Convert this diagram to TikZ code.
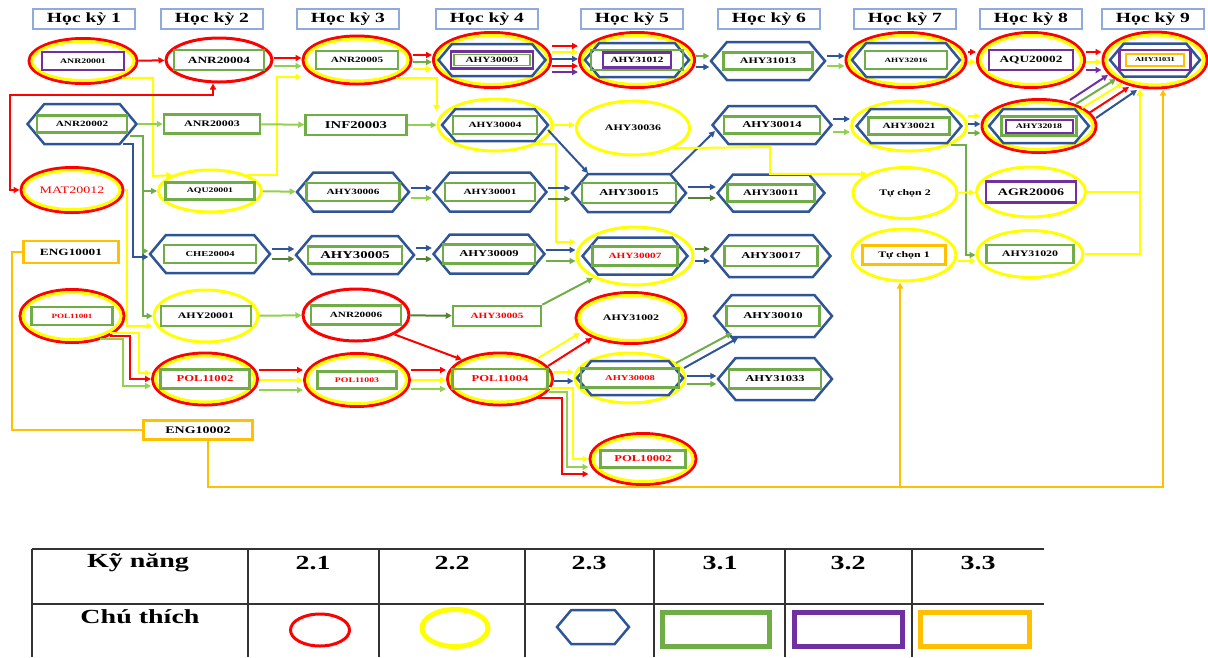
\documentclass[tikz,border=0pt]{standalone}
\usepackage{fontspec}
\usepackage{tikz}
\usetikzlibrary{shapes.geometric,shapes.symbols,arrows.meta}
\newfontfamily\lab[FakeStretch=1.4]{Liberation Serif}
\definecolor{cred}{HTML}{FF0000}
\definecolor{cyel}{HTML}{FFFF00}
\definecolor{cblue}{HTML}{2F5597}
\definecolor{cgreen}{HTML}{70AD47}
\definecolor{lgreen}{HTML}{92D050}
\definecolor{dgreen}{HTML}{548235}
\definecolor{cpurple}{HTML}{7030A0}
\definecolor{corange}{HTML}{FFC000}
\definecolor{hdrblue}{HTML}{8FAADC}

\begin{document}
\begin{tikzpicture}[
  x=1pt, y=-1pt,
  >={Triangle[length=6pt,width=6pt]},
  hdr/.style={draw=hdrblue, line width=1.5pt, minimum width=102pt, minimum height=20pt, inner sep=0pt, font=\lab\bfseries\fontsize{14}{14}\selectfont},
  lbl/.style={font=\lab\bfseries\fontsize{#1}{#1}\selectfont},
  lblr/.style={font=\lab\fontsize{#1}{#1}\selectfont},
  c21/.style 2 args={ellipse, draw=cred, line width=3pt, minimum width=#1pt, minimum height=#2pt, inner sep=0pt},
  c22/.style 2 args={ellipse, draw=cyel, line width=3pt, minimum width=#1pt, minimum height=#2pt, inner sep=0pt},
  c23/.style 2 args={signal, signal to=east and west, signal pointer angle=100, draw=cblue, line width=2.5pt, minimum width=#1pt, minimum height=#2pt, inner sep=0pt},
  c31/.style 2 args={rectangle, draw=cgreen, line width=2.5pt, minimum width=#1pt, minimum height=#2pt, inner sep=0pt},
  c32/.style 2 args={rectangle, draw=cpurple, line width=2.5pt, minimum width=#1pt, minimum height=#2pt, inner sep=0pt},
  c33/.style 2 args={rectangle, draw=corange, line width=2.5pt, minimum width=#1pt, minimum height=#2pt, inner sep=0pt},
  flow/.style={->, line width=2pt},
  ra/.style={flow, draw=cred},
  ya/.style={flow, draw=cyel},
  ba/.style={flow, draw=cblue},
  ga/.style={flow, draw=cgreen},
  lga/.style={flow, draw=lgreen},
  dga/.style={flow, draw=dgreen},
  pa/.style={flow, draw=cpurple},
  oa/.style={flow, draw=corange},
  oline/.style={line width=2pt, draw=corange},
  tline/.style={line width=1.5pt, draw=black!80},
  tabtxt/.style={font=\lab\bfseries\fontsize{20}{20}\selectfont}
]
\useasboundingbox (0,0) rectangle (1208,657);

% semester headers
\node[hdr] (hk1) at (84,19) {Học kỳ 1};
\node[hdr] (hk2) at (212,19) {Học kỳ 2};
\node[hdr] (hk3) at (348,19) {Học kỳ 3};
\node[hdr] (hk4) at (487,19) {Học kỳ 4};
\node[hdr] (hk5) at (632,19) {Học kỳ 5};
\node[hdr] (hk6) at (769,19) {Học kỳ 6};
\node[hdr] (hk7) at (905,19) {Học kỳ 7};
\node[hdr] (hk8) at (1031,19) {Học kỳ 8};
\node[hdr] (hk9) at (1153,19) {Học kỳ 9};

% row 1
\node[c21={108}{45}] (anr1) at (83,61) {};
\node[c22={102}{39}] (anr1y) at (anr1) {};
\node[c32={82}{18}, lbl=7] (anr1r) at (anr1) {ANR20001};

\node[c21={106}{44}] (anr4) at (219,60) {};
\node[c31={90}{20}, lbl=9.5] (anr4r) at (anr4) {ANR20004};

\node[c21={108}{48}] (anr5) at (357,60) {};
\node[c22={102}{42}] (anr5y) at (anr5) {};
\node[c31={82}{18}, lbl=8] (anr5r) at (anr5) {ANR20005};

\node[c21={117}{55}] (ahy3) at (492,60) {};
\node[c22={111}{49}] (ahy3y) at (ahy3) {};
\node[c23={107}{32}] (ahy3h) at (ahy3) {};
\node[c32={82}{17}] (ahy3r) at (ahy3) {};
\node[c31={76}{11}, line width=1.5pt, lbl=8] (ahy3i) at (ahy3) {AHY30003};

\node[c21={115}{55}] (ahy12) at (637,60) {};
\node[c22={109}{49}] (ahy12y) at (ahy12) {};
\node[c23={104}{34}] (ahy12h) at (ahy12) {};
\node[c31={92}{20}] (ahy12r) at (ahy12) {};
\node[c32={68}{15}, lbl=8] (ahy12i) at (ahy12) {AHY31012};

\node[c23={114}{38}] (ahy13) at (768,61) {};
\node[c31={89}{17}, lbl=8.5] (ahy13r) at (ahy13) {AHY31013};

\node[c21={120}{55}] (ahy16) at (906,60) {};
\node[c22={114}{49}] (ahy16y) at (ahy16) {};
\node[c23={108}{34}] (ahy16h) at (ahy16) {};
\node[c31={82}{18}, lbl=6.5] (ahy16r) at (ahy16) {AHY32016};

\node[c21={107}{55}] (aqu2) at (1031,60) {};
\node[c22={101}{49}] (aqu2y) at (aqu2) {};
\node[c32={84}{20}, lbl=9.5] (aqu2r) at (aqu2) {AQU20002};

\node[c21={104}{56}] (ahy31) at (1155,60) {};
\node[c22={98}{50}] (ahy31y) at (ahy31) {};
\node[c23={90}{33}] (ahy31h) at (ahy31) {};
\node[c32={71}{20}] (ahy31r) at (ahy31) {};
\node[c33={58}{12}, line width=2pt, lbl=6] (ahy31i) at (ahy31) {AHY31031};

% row 2
\node[c23={109}{40}] (anr2) at (82,124) {};
\node[c31={90}{17}, lbl=8] (anr2r) at (anr2) {ANR20002};

\node[c31={96}{19}, lbl=8.5] (anr3) at (212,124) {ANR20003};

\node[c31={101}{20}, lbl=10.5] (inf3) at (356,125) {INF20003};

\node[c22={114}{52}] (ahy4) at (495,125) {};
\node[c23={106}{32}] (ahy4h) at (ahy4) {};
\node[c31={84}{18}, lbl=8] (ahy4r) at (ahy4) {AHY30004};

\node[c22={113}{54}, lbl=8.5] (ahy36) at (633,128) {AHY30036};

\node[c23={119}{38}] (ahy14) at (772,125) {};
\node[c31={96}{17}, lbl=9] (ahy14r) at (ahy14) {AHY30014};

\node[c22={115}{50}] (ahy21) at (909,126) {};
\node[c23={105}{34}] (ahy21h) at (ahy21) {};
\node[c31={81}{17}, lbl=8] (ahy21r) at (ahy21) {AHY30021};

\node[c21={114}{53}] (ahy18) at (1039,126) {};
\node[c22={108}{47}] (ahy18y) at (ahy18) {};
\node[c23={100}{34}] (ahy18h) at (ahy18) {};
\node[c31={75}{19}] (ahy18r) at (ahy18) {};
\node[c32={67}{13}, line width=2pt, lbl=7] (ahy18i) at (ahy18) {AHY32018};

% row 3
\node[c21={102}{45}] (mat) at (72,190) {};
\node[c22={96}{39}, lblr=10, text=cred] (maty) at (mat) {MAT20012};

\node[c22={103}{42}] (aqu1) at (210,191) {};
\node[c31={89}{17}, lbl=7] (aqu1r) at (aqu1) {AQU20001};

\node[c23={112}{39}] (ahy6) at (353,192) {};
\node[c31={93}{18}, lbl=8] (ahy6r) at (ahy6) {AHY30006};

\node[c23={113}{39}] (ahy1) at (490,192) {};
\node[c31={90}{18}, lbl=8] (ahy1r) at (ahy1) {AHY30001};

\node[c23={114}{38}] (ahy15) at (629,193) {};
\node[c31={94}{20}, lbl=9] (ahy15r) at (ahy15) {AHY30015};

\node[c23={107}{37}] (ahy11) at (771,193) {};
\node[c31={87}{17}, lbl=8.5] (ahy11r) at (ahy11) {AHY30011};

\node[c22={104}{51}, lbl=8.5] (tc2) at (905,193) {Tự chọn 2};

\node[c22={109}{50}] (agr) at (1031,192) {};
\node[c32={90}{21}, lbl=10] (agrr) at (agr) {AGR20006};

% row 4
\node[c33={95}{22}, lbl=9.5] (eng1) at (71,252) {ENG10001};

\node[c23={120}{38}] (che) at (210,254) {};
\node[c31={92}{18}, lbl=7.5] (cher) at (che) {CHE20004};

\node[c23={118}{38}] (ahy5) at (355,255) {};
\node[c31={94}{17}, lbl=10.5] (ahy5r) at (ahy5) {AHY30005};

\node[c23={111}{39}] (ahy9) at (489,254) {};
\node[c31={92}{19}, lbl=9] (ahy9r) at (ahy9) {AHY30009};

\node[c22={116}{58}] (ahy7) at (635,256) {};
\node[c23={105}{37}] (ahy7h) at (ahy7) {};
\node[c31={85}{19}, lbl=8, text=cred] (ahy7r) at (ahy7) {AHY30007};

\node[c23={119}{42}] (ahy17) at (771,256) {};
\node[c31={93}{20}, lbl=9] (ahy17r) at (ahy17) {AHY30017};

\node[c22={104}{52}] (tc1) at (904,255) {};
\node[c33={83}{19}, lbl=8.5] (tc1r) at (tc1) {Tự chọn 1};

\node[c22={106}{47}] (ahy20) at (1030,254) {};
\node[c31={87}{18}, lbl=8.5] (ahy20r) at (ahy20) {AHY31020};

% row 5
\node[c21={104}{53}] (pol1) at (72,316) {};
\node[c22={98}{47}] (pol1y) at (pol1) {};
\node[c31={81}{18}, lbl=6.5, text=cred] (pol1r) at (pol1) {POL11001};

\node[c22={104}{52}] (ahy01) at (206,316) {};
\node[c31={90}{20}, lbl=8.5] (ahy01r) at (ahy01) {AHY20001};

\node[c21={106}{52}] (anr6) at (356,315) {};
\node[c31={90}{19}, lbl=8] (anr6r) at (anr6) {ANR20006};

\node[c31={88}{20}, lbl=8, text=cred] (ahy5b) at (497,316) {AHY30005};

\node[c21={110}{51}] (ahy02) at (631,318) {};
\node[c22={104}{45}, lbl=8.5] (ahy02y) at (ahy02) {AHY31002};

\node[c23={118}{42}] (ahy10) at (773,316) {};
\node[c31={93}{20}, lbl=9] (ahy10r) at (ahy10) {AHY30010};

% row 6
\node[c21={105}{52}] (pol2) at (205,379) {};
\node[c22={99}{46}] (pol2y) at (pol2) {};
\node[c31={89}{19}, lbl=9, text=cred] (pol2r) at (pol2) {POL11002};

\node[c21={105}{53}] (pol3) at (357,380) {};
\node[c22={99}{47}] (pol3y) at (pol3) {};
\node[c31={79}{17}, lbl=7, text=cred] (pol3r) at (pol3) {POL11003};

\node[c21={105}{52}] (pol4) at (500,379) {};
\node[c22={99}{46}] (pol4y) at (pol4) {};
\node[c31={95}{20}, lbl=9, text=cred] (pol4r) at (pol4) {POL11004};

\node[c22={110}{50}] (ahy8) at (630,378) {};
\node[c23={106}{34}] (ahy8h) at (ahy8) {};
\node[c31={98}{19}, lbl=7.5, text=cred] (ahy8r) at (ahy8) {AHY30008};

\node[c23={114}{42}] (ahy33) at (775,379) {};
\node[c31={92}{19}, lbl=9] (ahy33r) at (ahy33) {AHY31033};

% row 7
\node[c33={109}{19}, lbl=10] (eng2) at (198,430) {ENG10002};

\node[c21={106}{51}] (pol02) at (643,459) {};
\node[c22={100}{45}] (pol02y) at (pol02) {};
\node[c31={85}{17}, lbl=9, text=cred] (pol02r) at (pol02) {POL10002};

% semester 1 -> 2
\draw[ra] (anr1) -- (anr4);
\draw[ya] (anr1.south east) -| (153,176) -- (aqu1.north west);
\draw[ra,<->] (mat.west) -| (10,95) -| ([xshift=-6pt]anr4.south);
\draw[ya] (mat.east) -| (127,326) -- (ahy01.west |- 0,326);
\draw[lga] (anr2) -- (anr3);
\draw[ga] ([shift={(48,12)}]anr2.center) -| (143,191) -- (aqu1.west);
\draw[ga] ([shift={(48,12)}]anr2.center) -| (143,251) -- (che.west |- 0,251);
\draw[ga] ([shift={(48,12)}]anr2.center) -| (143,316) -- (ahy01.west);
\draw[ba] ([shift={(41,20)}]anr2.center) -| (133,257) -- (che.west |- 0,257);
\draw[oline] (eng1.west) -| (12,430) -- (eng2.west);
\draw[ra] (pol1.south east) -| (130,379) -- (pol2.west);
\draw[ya] ([yshift=3pt]pol1.south east) -| (139,373) -- (pol2.west |- 0,373);
\draw[lga] ([xshift=-10pt,yshift=-3pt]pol1.south east) -| (123,386) -- (pol2.west |- 0,386);

% semester 2 -> 3
\draw[ra] (anr4.east |- 0,58) -- (anr5.west |- 0,58);
\draw[lga] (anr4.east |- 0,66) -- (anr5.west |- 0,66);
\draw[ya] (aqu1.north east) -| (277,77) -- (anr5.west |- 0,77);
\draw[lga] (anr3) -- (inf3);
\draw[lga] (aqu1) -- (ahy6);
\draw[ba] (che.east |- 0,249) -- (ahy5.west |- 0,249);
\draw[dga] (che.east |- 0,259) -- (ahy5.west |- 0,259);
\draw[lga] (ahy01) -- (anr6);
\draw[ra] (pol2.east |- 0,370) -- (pol3.west |- 0,370);
\draw[ya] (pol2.east |- 0,380) -- (pol3.west |- 0,380);
\draw[lga] (pol2.east |- 0,390) -- (pol3.west |- 0,390);

% semester 3 -> 4
\draw[ra] (anr5.east |- 0,55) -- (ahy3.west |- 0,55);
\draw[ga] (anr5.east |- 0,62) -- (ahy3.west |- 0,62);
\draw[ya] (anr5.east |- 0,69) -- (ahy3.west |- 0,69);
\draw[ya] (anr5.south east) -| (ahy4.west |- 0,111);
\draw[lga] (inf3) -- (ahy4);
\draw[ba] (ahy6.east |- 0,188) -- (ahy1.west |- 0,188);
\draw[lga] (ahy6.east |- 0,198) -- (ahy1.west |- 0,198);
\draw[ba] (ahy5.east |- 0,248) -- (ahy9.west |- 0,248);
\draw[dga] (ahy5.east |- 0,259) -- (ahy9.west |- 0,259);
\draw[dga] (anr6) -- (ahy5b);
\draw[ra] (anr6.south east) -- (pol4.north west);
\draw[ra] (pol3.east |- 0,370) -- (pol4.west |- 0,370);
\draw[ya] (pol3.east |- 0,380) -- (pol4.west |- 0,380);
\draw[lga] (pol3.east |- 0,389) -- (pol4.west |- 0,389);

% semester 4 -> 5
\draw[ra] (ahy3.east |- 0,46) -- (ahy12.west |- 0,46);
\draw[ya] (ahy3.east |- 0,52) -- (ahy12.west |- 0,52);
\draw[ba] (ahy3.east |- 0,59) -- (ahy12.west |- 0,59);
\draw[ra] (ahy3.east |- 0,66) -- (ahy12.west |- 0,66);
\draw[pa] (ahy3.east |- 0,72) -- (ahy12.west |- 0,72);
\draw[ya] (ahy4.east) -- (ahy36.west |- ahy4.east);
\draw[ba] ([shift={(53,5)}]ahy4.center) -- ([shift={(-41,-20)}]ahy15.center);
\draw[ya] (ahy4.south east) -| (556,242) -- (ahy7.west |- 0,242);
\draw[ba] (ahy1.east |- 0,188) -- (ahy15.west |- 0,188);
\draw[dga] (ahy1.east |- 0,199) -- (ahy15.west |- 0,199);
\draw[ba] (ahy9.east |- 0,250) -- (ahy7.west |- 0,250);
\draw[ga] (ahy9.east |- 0,261) -- (ahy7.west |- 0,261);
\draw[ga] (ahy5b.north east) -- ([shift={(-42,22)}]ahy7.center);
\draw[ya] ([shift={(38,-21)}]pol4.center) -- ([shift={(-51,15)}]ahy02.center);
\draw[ra] ([shift={(48,-13)}]pol4.center) -- ([shift={(-39,20)}]ahy02.center);
\draw[ya] (pol4.east |- 0,372) -- (ahy8.west |- 0,372);
\draw[ba] (pol4.east |- 0,381) -- (ahy8.west |- 0,381);
\draw[ra] (pol4.south east) -| (562,474) -- (pol02.west |- 0,474);
\draw[lga] ([shift={(49,13)}]pol4.center) -| (567,467) -- (pol02.west |- 0,467);
\draw[ya] ([shift={(49,9)}]pol4.center) -| (573,459) -- (pol02.west);

% semester 5 -> 6
\draw[ga] (ahy12.east |- 0,56) -- (ahy13.west |- 0,56);
\draw[ba] (ahy12.east |- 0,67) -- (ahy13.west |- 0,67);
\draw[ba] ([shift={(41,-18)}]ahy15.center) -- ([shift={(-57,6)}]ahy14.center);
\draw[ba] (ahy15.east |- 0,187) -- (ahy11.west |- 0,187);
\draw[dga] (ahy15.east |- 0,198) -- (ahy11.west |- 0,198);
\draw[dga] (ahy7.east |- 0,249) -- (ahy17.west |- 0,249);
\draw[ba] (ahy7.east |- 0,261) -- (ahy17.west |- 0,261);
\draw[ga] ([shift={(46,-15)}]ahy8.center) -- ([shift={(-41,17)}]ahy10.center);
\draw[ba] ([shift={(54,-10)}]ahy8.center) -- ([shift={(-35,22)}]ahy10.center);
\draw[ba] (ahy8.east |- 0,376) -- (ahy33.west |- 0,376);
\draw[ga] (ahy8.east |- 0,384) -- (ahy33.west |- 0,384);
\draw[ya] (ahy36.south east) -- (770,147) |- (tc2.north west);

% semester 6 -> 7
\draw[ba] (ahy13.east |- 0,56) -- (ahy16.west |- 0,56);
\draw[lga] (ahy13.east |- 0,66) -- (ahy16.west |- 0,66);
\draw[ba] (ahy14.east |- 0,119) -- (ahy21.west |- 0,119);
\draw[lga] (ahy14.east |- 0,132) -- (ahy21.west |- 0,132);
\draw[oa] ([xshift=10pt]eng2.south) |- (900,487) -- ([xshift=-4pt]tc1.south);

% semester 7 -> 8
\draw[ra] (ahy16.east |- 0,52) -- (aqu2.west |- 0,52);
\draw[ya] (ahy16.east |- 0,62) -- (aqu2.west |- 0,62);
\draw[ya] (ahy21.east |- 0,116) -- (ahy18.west |- 0,116);
\draw[ba] (ahy21.east |- 0,124) -- (ahy18.west |- 0,124);
\draw[ga] (ahy21.east |- 0,133) -- (ahy18.west |- 0,133);
\draw[ga] (ahy21.south east) -| (966,255) -- (ahy20.west |- 0,255);
\draw[ya] (tc2) -- (agr);
\draw[ya] (tc1.east |- 0,261) -- (ahy20.west |- 0,261);

% semester 8 -> 9
\draw[ra] (aqu2.east |- 0,52) -- (ahy31.west |- 0,52);
\draw[ya] (aqu2.east |- 0,62) -- (ahy31.west |- 0,62);
\draw[pa] (aqu2.east |- 0,70) -- (ahy31.west |- 0,70);
\draw[pa] ([shift={(31,-26)}]ahy18.center) -- ([shift={(-47,15)}]ahy31.center);
\draw[ga] ([shift={(37,-22)}]ahy18.center) -- ([shift={(-39,19)}]ahy31.center);
\draw[ya] ([shift={(43,-18)}]ahy18.center) -- ([shift={(-32,23)}]ahy31.center);
\draw[ra] ([shift={(50,-13)}]ahy18.center) -- ([shift={(-26,27)}]ahy31.center);
\draw[ba] ([shift={(57,-8)}]ahy18.center) -- ([shift={(-18,30)}]ahy31.center);
\draw[ya] (agr.east) -| ([xshift=-15pt]ahy31.south);
\draw[ya] (ahy20.east) -| ([xshift=-15pt]ahy31.south);
\draw[oa] ([xshift=10pt]eng2.south) |- (1163,487) -- ([xshift=8pt]ahy31.south);

% legend table
\draw[tline] (32,549) -- (1044,549) (32,604) -- (1044,604);
\draw[tline] (32,549) -- (32,657) (248,549) -- (248,657) (379,549) -- (379,657)
  (525,549) -- (525,657) (654,549) -- (654,657) (785,549) -- (785,657) (912,549) -- (912,657);
\node[tabtxt] (tky) at (138,563) {Kỹ năng};
\node[tabtxt] (t21) at (313,563) {2.1};
\node[tabtxt] (t22) at (452,563) {2.2};
\node[tabtxt] (t23) at (589,563) {2.3};
\node[tabtxt] (t31) at (720,563) {3.1};
\node[tabtxt] (t32) at (848,563) {3.2};
\node[tabtxt] (t33) at (978,563) {3.3};
\node[tabtxt] (tct) at (140,617) {Chú thích};
\node[c21={59}{32}] (lg21) at (320,630) {};
\node[c22={66}{37}, line width=5pt] (lg22) at (455,628) {};
\node[c23={72}{34}] (lg23) at (593,627) {};
\node[c31={107}{34}, line width=5pt] (lg31) at (716,629) {};
\node[c32={108}{34}, line width=5pt] (lg32) at (848,629) {};
\node[c33={109}{34}, line width=5pt] (lg33) at (975,629) {};
\end{tikzpicture}
\end{document}
